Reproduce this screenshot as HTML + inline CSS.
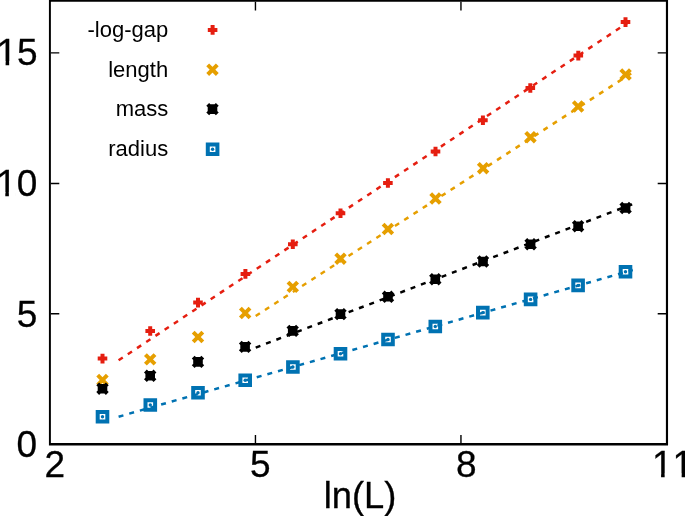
<!DOCTYPE html>
<html><head><meta charset="utf-8"><title>plot</title>
<style>
html,body{margin:0;padding:0;background:#fff;}
body{width:685px;height:516px;overflow:hidden;}
svg{display:block;}
text{font-family:"Liberation Sans",sans-serif;fill:#000;}
.tk{font-size:37.0px;font-kerning:none;stroke:#000;stroke-width:0.3px;}
.xl{font-size:36.3px;text-anchor:middle;stroke:#000;stroke-width:0.3px;}
.lg{font-size:22px;text-anchor:end;}
</style></head><body>
<svg width="685" height="516" viewBox="0 0 685 516">
<defs><filter id="gs" x="0" y="0" width="685" height="516" filterUnits="userSpaceOnUse" color-interpolation-filters="sRGB"><feColorMatrix type="saturate" values="0"/></filter></defs>
<rect width="685" height="516" fill="#fff"/>

<g fill="none" stroke-width="2.5" stroke-dasharray="5 6.05">
<path stroke="#e51e10" d="M118.6 360.33L632.8 19.36"/>
<path stroke="#e69f00" d="M255.7 315.97L632.8 72.38"/>
<path stroke="#000" d="M255.7 347.58L632.8 204.06"/>
<path stroke="#0072b2" d="M118.6 416.7L632.8 270.0"/>
</g>
<path fill="none" stroke="#e51e10" stroke-width="4" d="M97.7 358.6H107.3M102.5 353.8V363.4M145.4 331.0H155.0M150.2 326.2V335.8M193.2 302.6H202.8M198.0 297.8V307.4M240.6 273.9H250.2M245.4 269.1V278.7M288.0 244.3H297.6M292.8 239.5V249.1M335.7 213.3H345.3M340.5 208.5V218.1M383.1 183.0H392.7M387.9 178.2V187.8M430.7 151.5H440.3M435.5 146.7V156.3M478.1 120.3H487.7M482.9 115.5V125.1M525.5 88.0H535.1M530.3 83.2V92.8M573.5 55.6H583.1M578.3 50.8V60.4M620.7 22.1H630.3M625.5 17.3V26.9M207.8 29.9H217.4M212.6 25.1V34.7"/>
<path fill="none" stroke="#e69f00" stroke-width="4" d="M97.7 375.2L107.3 384.8M97.7 384.8L107.3 375.2M145.4 354.6L155.0 364.2M145.4 364.2L155.0 354.6M193.2 332.2L202.8 341.8M193.2 341.8L202.8 332.2M240.4 308.2L250.0 317.8M240.4 317.8L250.0 308.2M288.0 282.1L297.6 291.7M288.0 291.7L297.6 282.1M335.7 253.9L345.3 263.5M335.7 263.5L345.3 253.9M383.1 224.2L392.7 233.8M383.1 233.8L392.7 224.2M430.7 193.7L440.3 203.3M430.7 203.3L440.3 193.7M478.3 163.4L487.9 173.0M478.3 173.0L487.9 163.4M525.7 132.4L535.3 142.0M525.7 142.0L535.3 132.4M573.3 101.7L582.9 111.3M573.3 111.3L582.9 101.7M620.8 69.7L630.4 79.3M620.8 79.3L630.4 69.7M207.7 64.9L217.3 74.5M207.7 74.5L217.3 64.9"/>
<path fill="none" stroke="#000" stroke-width="4" d="M97.7 388.7H107.3M102.5 383.9V393.5M97.7 383.9L107.3 393.5M97.7 393.5L107.3 383.9M145.4 375.8H155.0M150.2 371.0V380.6M145.4 371.0L155.0 380.6M145.4 380.6L155.0 371.0M193.2 361.9H202.8M198.0 357.1V366.7M193.2 357.1L202.8 366.7M193.2 366.7L202.8 357.1M240.3 346.9H249.9M245.1 342.1V351.7M240.3 342.1L249.9 351.7M240.3 351.7L249.9 342.1M287.9 330.9H297.5M292.7 326.1V335.7M287.9 326.1L297.5 335.7M287.9 335.7L297.5 326.1M335.7 314.1H345.3M340.5 309.3V318.9M335.7 309.3L345.3 318.9M335.7 318.9L345.3 309.3M383.2 296.8H392.8M388.0 292.0V301.6M383.2 292.0L392.8 301.6M383.2 301.6L392.8 292.0M430.5 279.2H440.1M435.3 274.4V284.0M430.5 274.4L440.1 284.0M430.5 284.0L440.1 274.4M478.2 261.5H487.8M483.0 256.7V266.3M478.2 256.7L487.8 266.3M478.2 266.3L487.8 256.7M525.8 244.2H535.4M530.6 239.4V249.0M525.8 239.4L535.4 249.0M525.8 249.0L535.4 239.4M573.3 226.2H582.9M578.1 221.4V231.0M573.3 221.4L582.9 231.0M573.3 231.0L582.9 221.4M620.8 208.0H630.4M625.6 203.2V212.8M620.8 203.2L630.4 212.8M620.8 212.8L630.4 203.2M207.7 109.1H217.3M212.5 104.3V113.9M207.7 104.3L217.3 113.9M207.7 113.9L217.3 104.3"/>
<path fill="none" stroke="#0072b2" stroke-width="4" d="M97.7 411.9H107.3V421.5H97.7ZM145.5 400.2H155.1V409.8H145.5ZM193.2 387.9H202.8V397.5H193.2ZM240.4 375.5H250.0V385.1H240.4ZM288.1 362.2H297.7V371.8H288.1ZM335.7 349.0H345.3V358.6H335.7ZM383.2 334.7H392.8V344.3H383.2ZM430.5 321.7H440.1V331.3H430.5ZM478.0 307.8H487.6V317.4H478.0ZM525.8 294.6H535.4V304.2H525.8ZM573.3 280.6H582.9V290.2H573.3ZM620.7 266.9H630.3V276.5H620.7ZM207.8 144.4H217.4V154.0H207.8Z"/><g fill="#0072b2"><circle cx="102.5" cy="416.7" r="1.7"/><circle cx="150.3" cy="405.0" r="1.7"/><circle cx="198.0" cy="392.7" r="1.7"/><circle cx="245.2" cy="380.3" r="1.7"/><circle cx="292.9" cy="367.0" r="1.7"/><circle cx="340.5" cy="353.8" r="1.7"/><circle cx="388.0" cy="339.5" r="1.7"/><circle cx="435.3" cy="326.5" r="1.7"/><circle cx="482.8" cy="312.6" r="1.7"/><circle cx="530.6" cy="299.4" r="1.7"/><circle cx="578.1" cy="285.4" r="1.7"/><circle cx="625.5" cy="271.7" r="1.7"/><circle cx="212.6" cy="149.2" r="1.7"/></g>
<path fill="#000" d="M48.93 0H668.05V445.5H48.93ZM50.88 1.85V443.05H665.9V1.85Z" fill-rule="evenodd"/>
<path fill="none" stroke="#000" stroke-width="1.4" d="M50.68 52.9H59.3M666.1 52.9H657.7M50.68 183.5H59.3M666.1 183.5H657.7M50.68 313.8H59.3M666.1 313.8H657.7M255.45 443.25V435.1M255.45 1.6500000000000001V10.5M460.95 443.25V435.1M460.95 1.6500000000000001V10.5"/>
<g class="tk" filter="url(#gs)">
<text x="37.6" y="65.0" text-anchor="end">15</text>
<text x="37.3" y="195.7" text-anchor="end">10</text>
<text x="37.3" y="326.5" text-anchor="end">5</text>
<text x="37.1" y="457.3" text-anchor="end">0</text>
<text x="54.8" y="477.2" text-anchor="middle">2</text>
<text x="260.4" y="477.2" text-anchor="middle">5</text>
<text x="466.4" y="477.2" text-anchor="middle">8</text>
<text x="672.5" y="477.2" text-anchor="middle">11</text>
</g>
<path fill="#fff" d="M-1.74 61.24H5.60v5.56H-1.74ZM9.17 61.24H16.22v5.56H9.17ZM-2.04 191.94H5.30v5.56H-2.04ZM8.87 191.94H15.92v5.56H8.87ZM653.74 473.44H661.08v5.56H653.74ZM664.65 473.44H671.69v5.56H664.65ZM674.32 473.44H681.65v5.56H674.32ZM685.22 473.44H692.27v5.56H685.22Z"/>
<g filter="url(#gs)">
<text class="xl" x="360.0" y="508.4">ln(L)</text>
<text class="lg" x="168.2" y="36.9">-log-gap</text>
<text class="lg" x="168.2" y="76.6">length</text>
<text class="lg" x="168.2" y="116.2">mass</text>
<text class="lg" x="168.2" y="155.9">radius</text>
</g>
</svg></body></html>
